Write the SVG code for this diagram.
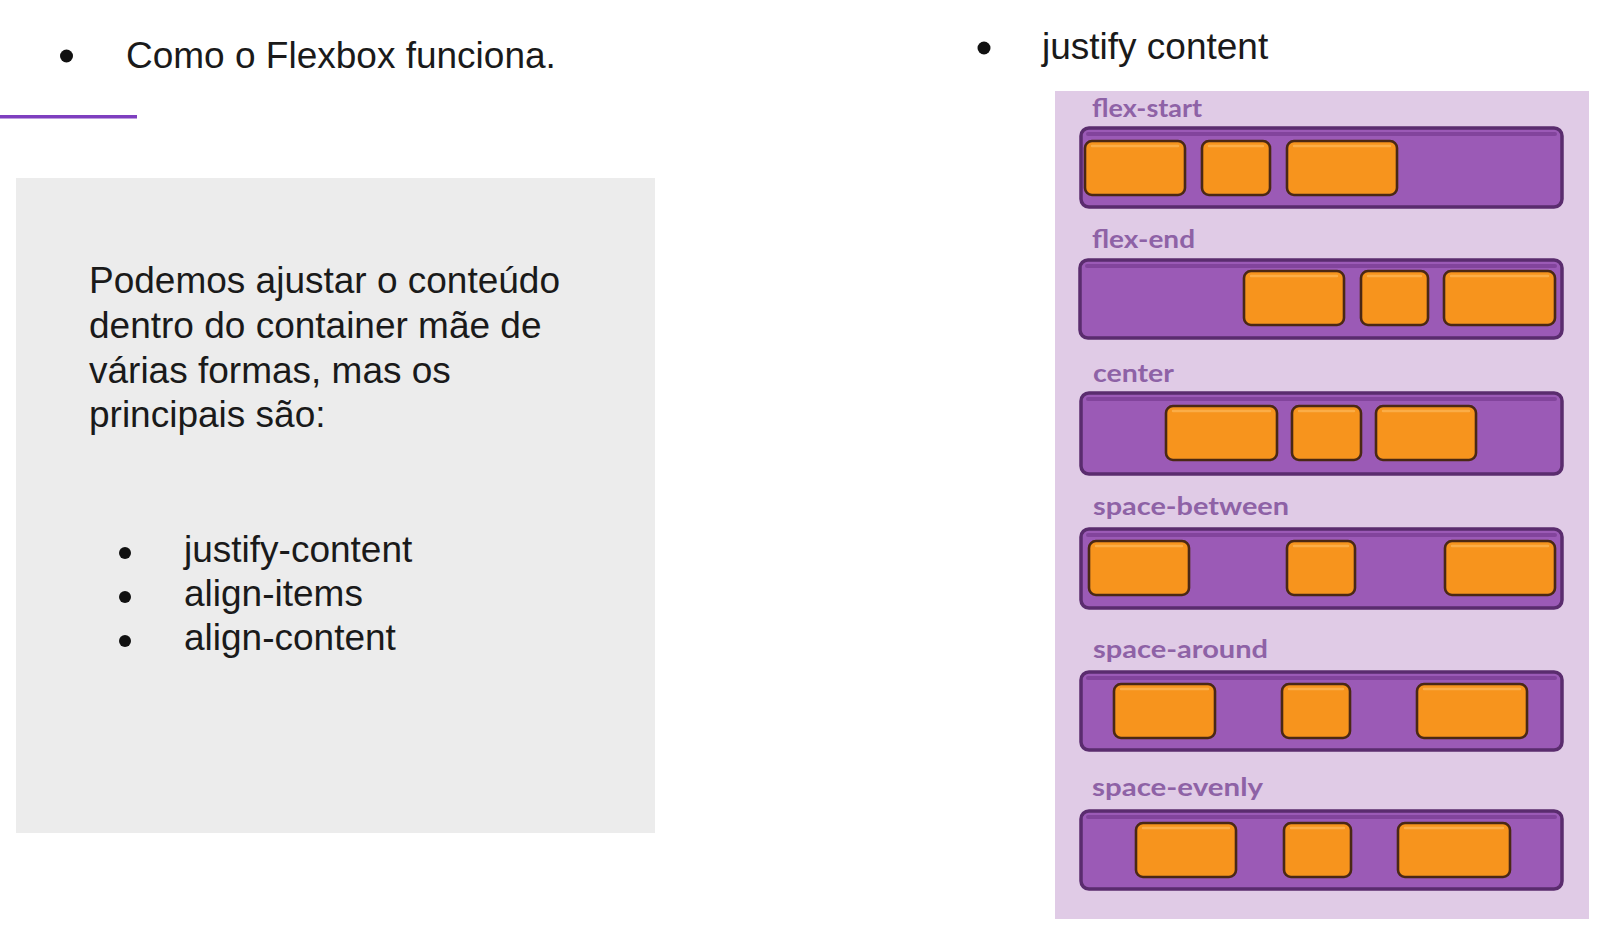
<svg xmlns="http://www.w3.org/2000/svg" width="1604" height="930" viewBox="0 0 1604 930">
<style>
.t{font-family:"Liberation Sans",Arial,sans-serif;font-size:37px;fill:#1a1a1a}
.dot{fill:#111}
.lbl{font-family:Lato,"Open Sans",sans-serif;font-size:24px;font-weight:700;fill:#8e62a6}
.bar{fill:#9b5ab6;stroke:#5a2c6e;stroke-width:3.5}
.shade{fill:none;stroke:#7a3d93;stroke-width:4;stroke-linecap:round;opacity:.75}
.item{fill:#f7941d;stroke:#4a2814;stroke-width:2.6}
.hl{fill:none;stroke:#fbb24f;stroke-width:2.5;stroke-linecap:round;opacity:.85}
</style>
<rect width="1604" height="930" fill="#ffffff"/>
<g id="title-left">
<circle class="dot" cx="66.5" cy="56" r="6.5"/>
<text class="t" x="126" y="68">Como o Flexbox funciona.</text>
</g>
<g id="accent-line"><rect x="0" y="115" width="137" height="3.5" fill="#7e3fbf"/></g>
<g id="info-box">
<rect x="16" y="178" width="639" height="655" fill="#ececec"/>
<text class="t" x="89" y="293">Podemos ajustar o conteúdo</text>
<text class="t" x="89" y="338">dentro do container mãe de</text>
<text class="t" x="89" y="383">várias formas, mas os</text>
<text class="t" x="89" y="427">principais são:</text>
<circle class="dot" cx="125" cy="553" r="6"/>
<text class="t" x="184" y="562">justify-content</text>
<circle class="dot" cx="125" cy="597" r="6"/>
<text class="t" x="184" y="606">align-items</text>
<circle class="dot" cx="125" cy="641" r="6"/>
<text class="t" x="184" y="650">align-content</text>
</g>
<g id="title-right">
<circle class="dot" cx="984" cy="48" r="6.5"/>
<text class="t" x="1042" y="59">justify content</text>
</g>
<g id="panel">
<rect x="1055" y="91" width="534" height="828" fill="#e0cbe6"/>
</g>
<g id="row-flex-start">
<text class="lbl" x="1092" y="117" textLength="110" lengthAdjust="spacingAndGlyphs">flex-start</text>
<rect class="bar" x="1081" y="128" width="481" height="79" rx="8"/>
<path class="shade" d="M1088 134 H1555"/>
<rect class="item" x="1085" y="141" width="100" height="54" rx="7"/>
<rect class="item" x="1202" y="141" width="68" height="54" rx="7"/>
<rect class="item" x="1287" y="141" width="110" height="54" rx="7"/>
<path class="hl" d="M1092 146 H1178 M1209 146 H1263 M1294 146 H1390"/>
</g>
<g id="row-flex-end">
<text class="lbl" x="1092" y="248" textLength="103" lengthAdjust="spacingAndGlyphs">flex-end</text>
<rect class="bar" x="1080" y="260" width="482" height="78" rx="8"/>
<path class="shade" d="M1087 266 H1555"/>
<rect class="item" x="1244" y="271" width="100" height="54" rx="7"/>
<rect class="item" x="1361" y="271" width="67" height="54" rx="7"/>
<rect class="item" x="1444" y="271" width="111" height="54" rx="7"/>
<path class="hl" d="M1251 276 H1337 M1368 276 H1421 M1451 276 H1548"/>
</g>
<g id="row-center">
<text class="lbl" x="1093" y="382" textLength="81" lengthAdjust="spacingAndGlyphs">center</text>
<rect class="bar" x="1081" y="393" width="481" height="81" rx="8"/>
<path class="shade" d="M1088 399 H1555"/>
<rect class="item" x="1166" y="406" width="111" height="54" rx="7"/>
<rect class="item" x="1292" y="406" width="69" height="54" rx="7"/>
<rect class="item" x="1376" y="406" width="100" height="54" rx="7"/>
<path class="hl" d="M1173 411 H1270 M1299 411 H1354 M1383 411 H1469"/>
</g>
<g id="row-space-between">
<text class="lbl" x="1093" y="515" textLength="196" lengthAdjust="spacingAndGlyphs">space-between</text>
<rect class="bar" x="1081" y="529" width="481" height="79" rx="8"/>
<path class="shade" d="M1088 535 H1555"/>
<rect class="item" x="1089" y="541" width="100" height="54" rx="7"/>
<rect class="item" x="1287" y="541" width="68" height="54" rx="7"/>
<rect class="item" x="1445" y="541" width="110" height="54" rx="7"/>
<path class="hl" d="M1096 546 H1182 M1294 546 H1348 M1452 546 H1548"/>
</g>
<g id="row-space-around">
<text class="lbl" x="1093" y="658" textLength="175" lengthAdjust="spacingAndGlyphs">space-around</text>
<rect class="bar" x="1081" y="672" width="481" height="78" rx="8"/>
<path class="shade" d="M1088 678 H1555"/>
<rect class="item" x="1114" y="684" width="101" height="54" rx="7"/>
<rect class="item" x="1282" y="684" width="68" height="54" rx="7"/>
<rect class="item" x="1417" y="684" width="110" height="54" rx="7"/>
<path class="hl" d="M1121 689 H1208 M1289 689 H1343 M1424 689 H1520"/>
</g>
<g id="row-space-evenly">
<text class="lbl" x="1092" y="796" textLength="171" lengthAdjust="spacingAndGlyphs">space-evenly</text>
<rect class="bar" x="1081" y="811" width="481" height="78" rx="8"/>
<path class="shade" d="M1088 817 H1555"/>
<rect class="item" x="1136" y="823" width="100" height="54" rx="7"/>
<rect class="item" x="1284" y="823" width="67" height="54" rx="7"/>
<rect class="item" x="1398" y="823" width="112" height="54" rx="7"/>
<path class="hl" d="M1143 828 H1229 M1291 828 H1344 M1405 828 H1503"/>
</g>
<g id="connectors"></g>
</svg>
